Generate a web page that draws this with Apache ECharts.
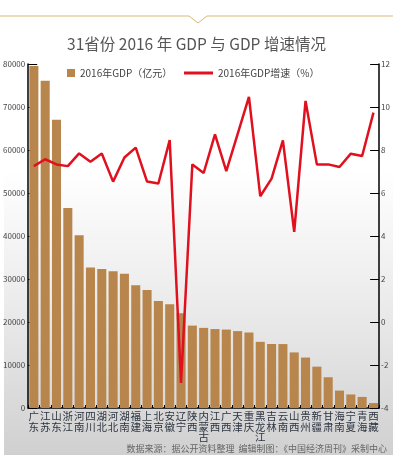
<!DOCTYPE html>
<html>
<head>
<meta charset="utf-8">
<script src="https://cdn.jsdelivr.net/npm/echarts@6/dist/echarts.min.js"></script>
<style>
html,body{margin:0;padding:0;background:#fff;}
#chart{width:393px;height:458px;}
</style>
</head>
<body>
<div id="chart"></div>
<script>
var provinces = ['广东','江苏','山东','浙江','河南','四川','湖北','河北','湖南','福建','上海','北京','安徽','辽宁','陕西','内蒙古','江西','广西','天津','重庆','黑龙江','吉林','云南','山西','贵州','新疆','甘肃','海南','宁夏','青海','西藏'];
var gdp = [79512,76086,67008,46485,40160,32680,32297,31828,31244,28519,27466,24899,24118,22038,19165,18633,18364,18245,17885,17559,15386,14886,14870,12928,11734,9617,7152,4044,3150,2572,1148];
var growth = [7.25,7.57,7.33,7.25,7.84,7.45,7.84,6.53,7.65,8.11,6.53,6.44,8.46,-2.84,7.33,6.93,8.73,7.02,8.74,10.47,5.85,6.67,8.45,4.19,10.28,7.33,7.33,7.21,7.83,7.72,9.74];
var leftTicks = [0,80000,10000];
var rightTicks = [-4,12,2];
var titleText = '31省份 2016 年 GDP 与 GDP 增速情况';
var gdpName = '2016年GDP（亿元）';
var growthName = '2016年GDP增速（%）';
var sourceText = '数据来源：据公开资料整理  编辑制图：《中国经济周刊》采制中心';

var chart = echarts.init(document.getElementById('chart'), null, {renderer:'canvas'});
var font = '"Noto Sans CJK SC","Microsoft YaHei",sans-serif';
var option = {
  animation:false,
  backgroundColor:'#ffffff',
  textStyle:{fontFamily:font},
  title:{
    text:titleText, left:'center', top:31,
    textStyle:{fontSize:15.5, fontWeight:'normal', color:'#555', fontFamily:font}
  },
  legend:[{
    data:[{name:gdpName, icon:'rect'}], left:62, top:63,
    itemWidth:8, itemHeight:8, itemGap:3,
    textStyle:{fontSize:10, color:'#444', fontFamily:font}
  },{
    data:[{name:growthName, icon:'rect'}], left:179, top:63,
    itemWidth:29, itemHeight:3, itemGap:3,
    textStyle:{fontSize:10, color:'#444', fontFamily:font}
  }],
  graphic:[{
    type:'rect', silent:true, z:-10,
    shape:{x:4, y:17, width:389, height:438},
    style:{fill:new echarts.graphic.LinearGradient(0,0,0,1,[
      {offset:0,color:'#ffffff'},{offset:0.35,color:'#ffffff'},{offset:0.7,color:'#e8e8e8'},{offset:1,color:'#d0d0d0'}
    ])}
  },{
    type:'polyline', silent:true,
    shape:{points:[[0,16],[189,16],[198,23],[207,16],[393,16]]},
    style:{stroke:'#d8b978', lineWidth:1, fill:null}
  },{
    type:'text', right:6, top:444,
    style:{text:sourceText, fontSize:9, fill:'#666', fontFamily:font}
  }],
  grid:{left:26, right:13, top:64, bottom:50, containLabel:false},
  xAxis:{
    type:'category', data:provinces, boundaryGap:true,
    axisLine:{lineStyle:{color:'#000', width:1.5}},
    axisTick:{show:true, length:3, inside:true, lineStyle:{color:'#000'}},
    axisLabel:{
      interval:0, margin:3, fontSize:10.5, lineHeight:10.5, color:'#2c3440',
      verticalAlign:'top',
      formatter:function(v){return v.split('').join('\n');}
    }
  },
  yAxis:[{
    type:'value', min:leftTicks[0], max:leftTicks[1], interval:leftTicks[2],
    splitLine:{show:false},
    axisLine:{show:true, lineStyle:{color:'#000', width:1.5}},
    axisTick:{show:true, inside:true, length:9, lineStyle:{color:'#000'}},
    axisLabel:{fontSize:8, color:'#444', margin:3, formatter:function(v){return String(v);}}
  },{
    type:'value', min:rightTicks[0], max:rightTicks[1], interval:rightTicks[2],
    splitLine:{show:false},
    axisLine:{show:true, lineStyle:{color:'#000', width:1.5}},
    axisTick:{show:true, inside:true, length:9, lineStyle:{color:'#000'}},
    axisLabel:{fontSize:8, color:'#444', margin:2}
  }],
  series:[{
    name:gdpName, type:'bar', data:gdp, yAxisIndex:0,
    barCategoryGap:'20%',
    itemStyle:{color:'#b8864c'}
  },{
    name:growthName, type:'line', data:growth, yAxisIndex:1,
    symbol:'none', z:5,
    lineStyle:{color:'#e0101e', width:2.5},
    itemStyle:{color:'#e0101e'}
  }]
};
chart.setOption(option);
</script>
</body>
</html>
